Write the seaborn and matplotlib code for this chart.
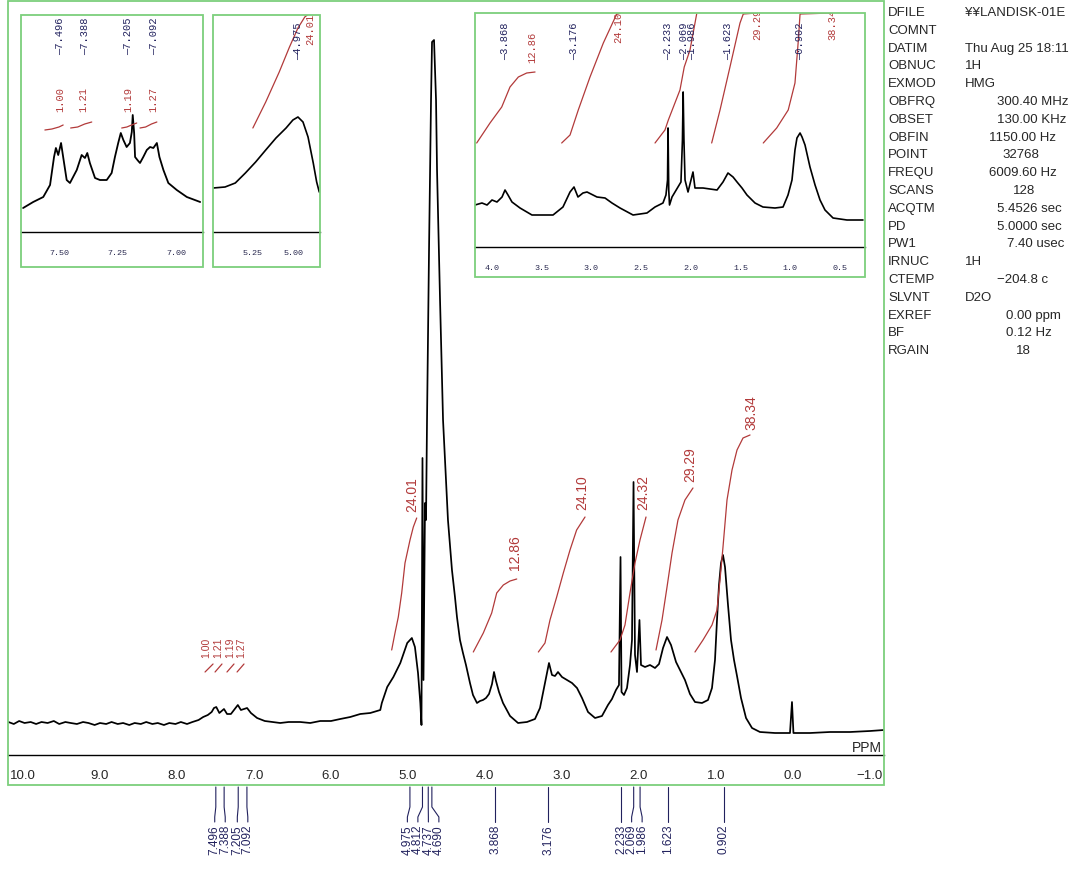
import numpy as np
import pandas as pd
import matplotlib
matplotlib.use("Agg")
import matplotlib.pyplot as plt
import seaborn as sns
from matplotlib.patches import Rectangle
from matplotlib.lines import Line2D
import matplotlib.transforms as mtransforms
from matplotlib.ticker import MultipleLocator, FixedLocator, FuncFormatter

# ---------------- data ----------------
main_ppm = [10.19, 10.12, 10.05, 9.98, 9.90, 9.83, 9.76, 9.68, 9.60, 9.53, 9.45, 9.38, 9.30, 9.22,
            9.15, 9.07, 9.00, 8.92, 8.85, 8.77, 8.70, 8.62, 8.55, 8.47, 8.40, 8.32, 8.25, 8.17,
            8.10, 8.02, 7.95, 7.87, 7.80,
            7.72, 7.66, 7.60, 7.55, 7.52, 7.49, 7.45, 7.42, 7.39, 7.35, 7.30, 7.25, 7.21, 7.17,
            7.13, 7.09, 7.04, 6.96, 6.86, 6.76, 6.66, 6.55, 6.40, 6.27, 6.14, 6.00, 5.88, 5.75,
            5.62, 5.49, 5.36, 5.34,
            5.27, 5.19, 5.10, 5.01, 4.95, 4.91, 4.87, 4.84, 4.825, 4.812, 4.799, 4.779, 4.766,
            4.753, 4.727, 4.701, 4.688, 4.662, 4.636, 4.623, 4.584, 4.545, 4.506, 4.481, 4.455,
            4.429, 4.390, 4.364, 4.325, 4.286, 4.247, 4.195, 4.156, 4.104, 4.065, 4.026, 3.987,
            3.948, 3.909, 3.883, 3.857, 3.818, 3.766, 3.675, 3.571, 3.455, 3.351, 3.286, 3.221,
            3.169, 3.130, 3.091, 3.052, 3.000, 2.935, 2.870, 2.805, 2.740, 2.662, 2.571, 2.481,
            2.403, 2.351, 2.299, 2.260, 2.240, 2.227, 2.195, 2.156, 2.117, 2.091, 2.071, 2.052,
            2.026, 1.994, 1.974, 1.922, 1.857, 1.792, 1.740, 1.688, 1.636, 1.584, 1.519, 1.468,
            1.403, 1.338, 1.273, 1.182, 1.104, 1.052, 1.013, 0.987, 0.961, 0.935, 0.909, 0.883,
            0.844, 0.805, 0.766, 0.727, 0.675, 0.610, 0.532, 0.429, 0.234, 0.039, 0.013, -0.006,
            -0.221, -0.481, -0.740, -1.000, -1.182]
main_int = [33, 31, 34, 32, 33, 31, 33, 32, 34, 31, 33, 32, 31, 33,
            32, 30, 32, 31, 33, 31, 32, 30, 32, 31, 33, 31, 32, 30,
            32, 31, 33, 31, 33,
            35, 38, 40, 43, 47, 48, 42, 44, 46, 41, 41, 46, 50, 45,
            46, 47, 42, 37, 34, 33, 32, 33, 33, 32, 34, 34, 36, 38,
            41, 42, 45, 52,
            68, 78, 92, 112, 117, 108, 82, 52, 30, 297, 75, 252, 235,
            335, 505, 655, 713, 715, 655, 585, 455, 335, 275, 235, 210,
            185, 158, 138, 115, 102, 90, 72, 60, 52, 54, 55, 57,
            61, 71, 83, 74, 63, 52, 39, 32, 33, 36, 47, 72,
            92, 80, 79, 83, 78, 75, 72, 67, 57, 43, 37, 39,
            50, 56, 65, 70, 198, 63, 60, 67, 90, 115, 273, 100,
            83, 135, 90, 88, 90, 87, 91, 107, 118, 110, 93, 85,
            75, 61, 53, 52, 55, 67, 95, 135, 170, 192, 200, 188,
            150, 115, 95, 79, 57, 37, 27, 23, 22, 22, 53, 22,
            22, 23, 23, 24, 25]

# integral curves on the main spectrum
int_values = ["24.01", "12.86", "24.10", "24.32", "29.29", "38.34"]
int_curves_ppm = [
    [5.212, 5.169, 5.126, 5.082, 5.039, 4.974, 4.931, 4.887],
    [4.152, 4.022, 3.913, 3.848, 3.762, 3.675, 3.588],
    [3.307, 3.221, 3.156, 3.069, 2.983, 2.896, 2.810, 2.701],
    [2.364, 2.247, 2.182, 2.117, 2.052, 1.987, 1.909],
    [1.779, 1.701, 1.636, 1.571, 1.494, 1.403, 1.299],
    [1.273, 1.169, 1.052, 0.987, 0.948, 0.909, 0.857, 0.792, 0.727, 0.649, 0.558],
]
int_curves_val = [
    [105, 122, 138, 162, 192, 215, 228, 237],
    [103, 122, 142, 162, 170, 174, 176],
    [103, 112, 135, 158, 182, 205, 225, 238],
    [103, 115, 130, 162, 192, 215, 238],
    [105, 135, 168, 202, 235, 255, 267],
    [103, 115, 130, 145, 175, 208, 255, 285, 305, 317, 320],
]
int_label_ppm = [4.948, 3.61, 2.74, 1.948, 1.338, 0.545]
int_label_val = [243, 185, 245, 245, 273, 325]

# small aromatic integrals (main)
arom_values = ["1.00", "1.21", "1.19", "1.27"]
arom_int_ppm = [[7.636, 7.532], [7.506, 7.416], [7.351, 7.260], [7.220, 7.130]]
arom_int_val = [[83, 91], [83, 91], [83, 91], [83, 91]]
arom_label_ppm = [7.62, 7.47, 7.31, 7.16]
arom_label_val = [97, 97, 97, 97]

# peak picks
peak_ppm = [7.496, 7.388, 7.205, 7.092, 4.975, 4.812, 4.737, 4.690,
            3.868, 3.176, 2.233, 2.069, 1.986, 1.623, 0.902]

# inset 1 (aromatic expansion)
ins1_ppm = [7.653, 7.610, 7.567, 7.538, 7.521, 7.513, 7.503, 7.491, 7.482, 7.467, 7.453, 7.424,
            7.403, 7.389, 7.379, 7.368, 7.346, 7.325, 7.296, 7.275, 7.261, 7.247, 7.236, 7.225,
            7.211, 7.197, 7.189, 7.185, 7.179, 7.175, 7.165, 7.154, 7.140, 7.125, 7.111, 7.097,
            7.082, 7.071, 7.054, 7.033, 6.997, 6.954, 6.897]
ins1_int = [24, 30, 35, 47, 75, 84, 77, 89, 75, 52, 49, 62,
            77, 74, 79, 69, 54, 52, 52, 59, 75, 89, 99, 92,
            85, 89, 100, 117, 99, 75, 72, 69, 75, 82, 85, 84,
            89, 75, 62, 49, 42, 35, 30]
ins1_peaks = [7.496, 7.388, 7.205, 7.092]
ins1_int_ppm = [[7.560, 7.530, 7.500, 7.482], [7.450, 7.420, 7.390, 7.360],
                [7.232, 7.210, 7.190, 7.168], [7.154, 7.130, 7.105, 7.082]]
ins1_int_val = [[102, 103, 105, 107], [104, 105, 108, 110], [104, 105, 107, 109], [104, 105, 108, 110]]
ins1_int_labels = ["1.00", "1.21", "1.19", "1.27"]
ins1_int_label_ppm = [7.496, 7.397, 7.205, 7.098]

# inset 2 (4.975 expansion)
ins2_ppm = [5.494, 5.421, 5.358, 5.296, 5.233, 5.171, 5.108, 5.046, 5.004, 4.973, 4.942, 4.911,
            4.879, 4.858, 4.842]
ins2_int = [44, 45, 49, 59, 70, 82, 94, 104, 112, 115, 110, 95, 69, 50, 40]
ins2_intg_ppm = [5.25, 5.171, 5.088, 5.025, 4.973, 4.931, 4.90, 4.85]
ins2_intg_val = [104, 130, 160, 185, 204, 215, 219, 221]

# inset 3 (aliphatic expansion)
ins3_ppm = [4.171, 4.101, 4.050, 4.000, 3.950, 3.899, 3.869, 3.839, 3.799, 3.718, 3.598, 3.386,
            3.286, 3.215, 3.175, 3.135, 3.085, 3.044, 2.944, 2.863, 2.793, 2.712, 2.581, 2.441,
            2.360, 2.280, 2.250, 2.234, 2.229, 2.222, 2.214, 2.189, 2.129, 2.099, 2.084, 2.077,
            2.069, 2.058, 2.028, 1.998, 1.978, 1.958, 1.877, 1.807, 1.736, 1.676, 1.626, 1.575,
            1.535, 1.485, 1.435, 1.354, 1.274, 1.153, 1.072, 1.022, 0.982, 0.952, 0.932, 0.901,
            0.881, 0.851, 0.801, 0.750, 0.700, 0.650, 0.569, 0.429, 0.268]
ins3_int = [42, 44, 42, 47, 45, 50, 57, 52, 45, 39, 32, 32,
            40, 55, 60, 50, 54, 55, 50, 49, 44, 39, 32, 34,
            40, 44, 52, 67, 119, 57, 42, 50, 60, 65, 107, 155,
            107, 67, 55, 67, 75, 59, 59, 58, 57, 65, 74, 70,
            65, 59, 52, 44, 40, 39, 40, 52, 67, 97, 109, 114,
            110, 102, 80, 62, 47, 37, 29, 27, 27]
ins3_peaks = [3.868, 3.176, 2.233, 2.069, 1.986, 1.623, 0.902]
ins3_intg_ppm = [
    [4.154, 4.020, 3.902, 3.819, 3.735, 3.651, 3.567],
    [3.299, 3.215, 3.132, 3.014, 2.880, 2.745, 2.712],
    [2.360, 2.260, 2.226, 2.109, 2.066, 2.008, 1.941],
    [1.790, 1.706, 1.606, 1.505, 1.472, 1.337],
    [1.271, 1.136, 1.020, 0.952, 0.918, 0.901, 0.582],
]
ins3_intg_val = [
    [104, 124, 140, 160, 170, 174, 175],
    [104, 112, 137, 170, 204, 233, 234],
    [104, 117, 127, 157, 180, 197, 233],
    [104, 137, 180, 224, 233, 234],
    [104, 119, 137, 164, 207, 233, 234],
]
ins3_intg_labels = ["12.86", "24.10", "29.29", "38.34"]
ins3_intg_label_ppm = [3.598, 2.73, 1.335, 0.579]
ins3_intg_label_val = [184, 204, 207, 207]

# acquisition parameters
param_names = ["DFILE", "COMNT", "DATIM", "OBNUC", "EXMOD", "OBFRQ", "OBSET", "OBFIN", "POINT",
               "FREQU", "SCANS", "ACQTM", "PD", "PW1", "IRNUC", "CTEMP", "SLVNT", "EXREF", "BF",
               "RGAIN"]
param_values = ["¥¥LANDISK-01E", "", "Thu Aug 25 18:11", "1H", "HMG", "300.40 MHz", "130.00 KHz",
                "1150.00 Hz", "32768", "6009.60 Hz", "128", "5.4526 sec", "5.0000 sec",
                "7.40 usec", "1H", "\u2212204.8 c", "D2O", "0.00 ppm", "0.12 Hz", "18"]
# layout of the value column (pixels)
param_value_x = [965, 965, 965, 965, 965, 997, 997, 989, 1002, 989, 1013, 997, 997, 1007, 965,
                 997, 965, 1006, 1006, 1016]

# ---------------- style ----------------
sns.set_style("white")
plt.rcParams['font.family'] = ['Liberation Sans', 'DejaVu Sans']
W, H = 1089, 869
fig = plt.figure(figsize=(W / 100, H / 100), dpi=100)
GREEN = '#7ccf7c'
RED = '#b23a3a'
NAVY = '#22225e'
MONO = ['Liberation Mono', 'DejaVu Sans Mono']


def fx(px):
    return px / W


def fy(py):
    return (H - py) / H


def make_axes(x0, y0, x1, y1):
    ax = fig.add_axes([fx(x0), fy(y1), fx(x1) - fx(x0), fy(y0) - fy(y1)])
    ax.set_facecolor('white')
    for s in ['top', 'left', 'right']:
        ax.spines[s].set_visible(False)
    ax.spines['bottom'].set_color('black')
    ax.spines['bottom'].set_linewidth(1.0)
    ax.set_yticks([])
    ax.set_ylabel('')
    ax.set_xlabel('')
    return ax


def frame(x0, y0, x1, y1, z=6):
    fig.add_artist(Rectangle((fx(x0), fy(y1)), fx(x1) - fx(x0), fy(y0) - fy(y1),
                             transform=fig.transFigure, fill=False, ec=GREEN, lw=1.3, zorder=z))


# ---------------- main spectrum ----------------
ax = make_axes(8, 1, 884, 755)
df_main = pd.DataFrame({'ppm': main_ppm, 'intensity': main_int})
sns.lineplot(data=df_main, x='ppm', y='intensity', ax=ax, color='black', linewidth=1.25,
             sort=False, estimator=None)
ax.set_xlim(10.195, -1.182)
ax.set_ylim(0, 754)
ax.set_xlabel('')
ax.set_ylabel('')
ax.set_yticks([])
ax.xaxis.set_major_locator(FixedLocator(list(range(10, -2, -1))))
ax.xaxis.set_minor_locator(MultipleLocator(0.1))
ax.xaxis.set_major_formatter(FuncFormatter(lambda v, p: f"{v:.1f}".replace('-', '\u2212')))
ax.tick_params(axis='x', which='major', direction='out', length=8, width=1, pad=3,
               labelsize=9.5, color='black')
ax.tick_params(axis='x', which='minor', direction='out', length=3.5, width=0.8, color='black')
fig.text(fx(882), fy(748), "PPM", ha='right', va='center', fontsize=10)

for pp, vv in zip(int_curves_ppm, int_curves_val):
    sns.lineplot(x=pp, y=vv, ax=ax, color=RED, linewidth=0.9, sort=False, estimator=None)
for lab, xp, yv in zip(int_values, int_label_ppm, int_label_val):
    ax.text(xp, yv, lab, rotation=90, ha='center', va='bottom', color=RED, fontsize=10)
for pp, vv in zip(arom_int_ppm, arom_int_val):
    sns.lineplot(x=pp, y=vv, ax=ax, color=RED, linewidth=0.9, sort=False, estimator=None)
for lab, xp, yv in zip(arom_values, arom_label_ppm, arom_label_val):
    ax.text(xp, yv, lab, rotation=90, ha='center', va='bottom', color=RED, fontsize=7.5)

# peak pick labels below the main axis
blend = mtransforms.blended_transform_factory(ax.transData, fig.transFigure)
gap = 10.5 / 77.0
pos = list(peak_ppm)
for _ in range(300):
    for i in range(len(pos) - 1):
        d = pos[i] - pos[i + 1]
        if d < gap:
            sh = (gap - d) / 2
            pos[i] += sh
            pos[i + 1] -= sh
for p, q in zip(peak_ppm, pos):
    xs = [p, p, q, q]
    ys = [fy(787), fy(807), fy(817), fy(822)]
    fig.add_artist(Line2D(xs, ys, transform=blend, color=NAVY, lw=0.8))
    ax.text(q, fy(825), f"{p:.3f}", transform=blend, rotation=90, ha='center', va='top',
            color=NAVY, fontsize=8.5, clip_on=False)

frame(8, 1, 884, 785)

# ---------------- inset 1 ----------------
a1 = make_axes(21, 15, 203, 232)
a1.set_zorder(3)
sns.lineplot(x=ins1_ppm, y=ins1_int, ax=a1, color='black', linewidth=1.3, sort=False,
             estimator=None)
a1.set_xlim(7.662, 6.885)
a1.set_ylim(0, 217)
for p in ins1_peaks:
    a1.text(p, 177, "\u2014" + f"{p:.3f}", rotation=90, ha='center', va='bottom', color=NAVY,
            fontsize=7.5, family=MONO, clip_on=True)
for pp, vv in zip(ins1_int_ppm, ins1_int_val):
    sns.lineplot(x=pp, y=vv, ax=a1, color=RED, linewidth=0.9, sort=False, estimator=None)
for lab, xp in zip(ins1_int_labels, ins1_int_label_ppm):
    a1.text(xp, 120, lab, rotation=90, ha='center', va='bottom', color=RED, fontsize=7.5,
            family=MONO, clip_on=True)
a1.xaxis.set_major_locator(MultipleLocator(0.25))
a1.xaxis.set_minor_locator(MultipleLocator(0.05))
a1.xaxis.set_major_formatter(FuncFormatter(lambda v, p: f"{v:.2f}"))

# ---------------- inset 2 ----------------
a2 = make_axes(213, 15, 320, 232)
a2.set_zorder(3)
sns.lineplot(x=ins2_ppm, y=ins2_int, ax=a2, color='black', linewidth=1.2, sort=False,
             estimator=None)
sns.lineplot(x=ins2_intg_ppm, y=ins2_intg_val, ax=a2, color=RED, linewidth=0.9, sort=False,
             estimator=None)
a2.set_xlim(5.495, 4.8375)
a2.set_ylim(0, 217)
a2.text(4.975, 172, "\u20144.975", rotation=90, ha='center', va='bottom', color=NAVY,
        fontsize=7.5, family=MONO, clip_on=True)
a2.text(4.898, 187, "24.01", rotation=90, ha='center', va='bottom', color=RED, fontsize=7.5,
        family=MONO, clip_on=True)
a2.xaxis.set_major_locator(FixedLocator([5.25, 5.00]))
a2.xaxis.set_minor_locator(MultipleLocator(0.05))
a2.xaxis.set_major_formatter(FuncFormatter(lambda v, p: f"{v:.2f}"))

# ---------------- inset 3 ----------------
a3 = make_axes(475, 13, 865, 247)
a3.set_zorder(3)
sns.lineplot(x=ins3_ppm, y=ins3_int, ax=a3, color='black', linewidth=1.2, sort=False,
             estimator=None)
for pp, vv in zip(ins3_intg_ppm, ins3_intg_val):
    sns.lineplot(x=pp, y=vv, ax=a3, color=RED, linewidth=0.9, sort=False, estimator=None)
a3.set_xlim(4.171, 0.2475)
a3.set_ylim(0, 234)
for p in ins3_peaks:
    a3.text(p, 187, "\u2014" + f"{p:.3f}", rotation=90, ha='center', va='bottom', color=NAVY,
            fontsize=7.5, family=MONO, clip_on=True)
for lab, xp, yv in zip(ins3_intg_labels, ins3_intg_label_ppm, ins3_intg_label_val):
    a3.text(xp, yv, lab, rotation=90, ha='center', va='bottom', color=RED, fontsize=7.5,
            family=MONO, clip_on=True)
a3.xaxis.set_major_locator(MultipleLocator(0.5))
a3.xaxis.set_minor_locator(MultipleLocator(0.1))
a3.xaxis.set_major_formatter(FuncFormatter(lambda v, p: f"{v:.1f}"))

for a in (a1, a2, a3):
    a.set_xlabel('')
    a.set_ylabel('')
    a.set_yticks([])
    a.tick_params(axis='x', which='major', direction='out', length=6, width=0.9, pad=7,
                  labelsize=6, labelcolor='#2a2a50', color='#2a2a50')
    a.tick_params(axis='x', which='minor', direction='out', length=3, width=0.8,
                  color='#2a2a50')
    for t in a.get_xticklabels():
        t.set_family(MONO)

frame(21, 15, 203, 267)
frame(213, 15, 320, 267)
frame(475, 13, 865, 277)

# ---------------- parameter block ----------------
for i, (n, v, vx) in enumerate(zip(param_names, param_values, param_value_x)):
    yy = 13 + i * 17.8
    fig.text(fx(888), fy(yy), n, ha='left', va='center', fontsize=9.5)
    if v:
        fig.text(fx(vx), fy(yy), v, ha='left', va='center', fontsize=9.5)

fig.savefig("out.png", dpi=100, facecolor='white')
